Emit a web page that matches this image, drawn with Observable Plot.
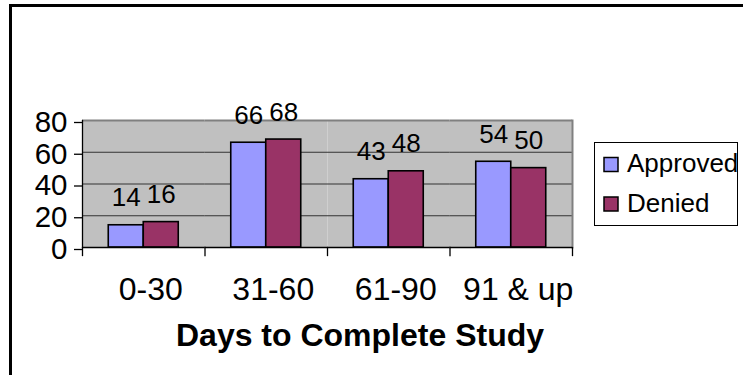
<!DOCTYPE html>
<html>
<head>
<meta charset="utf-8">
<script src="https://cdn.jsdelivr.net/npm/d3@7"></script>
<script src="https://cdn.jsdelivr.net/npm/@observablehq/plot@0.6"></script>
<style>
  body { margin: 0; background: #fff; }
  #chart { position: relative; width: 743px; height: 375px; overflow: hidden;
           font-family: "Liberation Sans", Arial, sans-serif; }
  #chart > svg { position: absolute; left: 0; top: 0; }
</style>
</head>
<body>
<div id="chart"></div>
<script>
// Study completion time buckets and counts per outcome
const categories = ["0-30", "31-60", "61-90", "91 & up"];
const series = ["Approved", "Denied"];
const approved = [14, 66, 43, 54];
const denied = [16, 68, 48, 50];
const yTicks = [0, 20, 40, 60, 80];
const colors = ["#9999FF", "#993366"];
const axisTitle = "Days to Complete Study";

const values = {Approved: approved, Denied: denied};
const data = categories.flatMap((category, i) =>
  series.map(s => ({category, series: s, value: values[s][i]}))
);

const plot = Plot.plot({
  width: 743,
  height: 375,
  marginLeft: 82,
  marginRight: 171,
  marginTop: 120,
  marginBottom: 128,
  style: {fontFamily: "'Liberation Sans', Arial, sans-serif", background: "transparent", overflow: "visible"},
  fx: {domain: categories, padding: 0, axis: null, label: null, round: false},
  x: {domain: series, paddingInner: 0, paddingOuter: 0.75, axis: null, round: false},
  y: {domain: [0, 80], axis: null, label: null},
  color: {domain: series, range: colors},
  marks: [
    // gray plot area, one panel per bucket
    Plot.frame({fill: "#C0C0C0", stroke: "none"}),
    // horizontal gridlines
    Plot.ruleY(yTicks.filter(v => v > 0 && v < 80), {stroke: "#333", strokeWidth: 1.2}),
    // plot area border (top and right)
    Plot.ruleY([80], {stroke: "#808080", strokeWidth: 2}),
    Plot.frame({anchor: "right", facetAnchor: "right", stroke: "#808080", strokeWidth: 2}),
    // bars
    Plot.barY(data, {fx: "category", x: "series", y: "value", fill: "series",
                     stroke: "#000", strokeWidth: 1.6}),
    // value labels
    Plot.text(data, {fx: "category", x: "series", y: "value", text: d => String(d.value),
                     dy: -19, lineAnchor: "bottom", fontSize: 26, fill: "#000"}),
    // axis lines
    Plot.frame({anchor: "left", facetAnchor: "left", stroke: "#000", strokeWidth: 1.3}),
    Plot.ruleY([0], {stroke: "#000", strokeWidth: 1.5}),
    // category boundary ticks below the baseline
    Plot.frame({anchor: "left", stroke: "#000", strokeWidth: 1.3, insetTop: 127, insetBottom: -8}),
    Plot.frame({anchor: "right", facetAnchor: "right", stroke: "#000", strokeWidth: 1.3, insetTop: 127, insetBottom: -8}),
    // y axis ticks and labels
    Plot.axisY(yTicks, {anchor: "left", tickSize: 8, tickPadding: 7, fontSize: 29.5, dy: 2,
                        label: null, stroke: "#000", strokeWidth: 1.3, fill: "#000"}),
    // bucket labels
    Plot.axisFx({anchor: "bottom", tickSize: 0, tickPadding: 30, fontSize: 32, dx: 7, label: null, fill: "#000"})
  ]
});

const chart = document.getElementById("chart");
chart.appendChild(plot);

// chart border, axis title and legend
const overlay = d3.select(chart).append("svg")
  .attr("width", 743).attr("height", 375)
  .style("pointer-events", "none")
  .style("font-family", "'Liberation Sans', Arial, sans-serif");

overlay.append("path")
  .attr("d", "M10.5,380V5.5H750")
  .attr("fill", "none").attr("stroke", "#000").attr("stroke-width", 3);

overlay.append("text")
  .attr("x", 360).attr("y", 346)
  .attr("text-anchor", "middle")
  .attr("font-size", 32).attr("font-weight", "bold")
  .text(axisTitle);

const legend = overlay.append("g");
legend.append("rect")
  .attr("x", 594.5).attr("y", 142.5).attr("width", 143).attr("height", 83)
  .attr("fill", "#fff").attr("stroke", "#000").attr("stroke-width", 1);
series.forEach((s, i) => {
  legend.append("rect")
    .attr("x", 604).attr("y", 157.5 + i * 39.5).attr("width", 14).attr("height", 14)
    .attr("fill", colors[i]).attr("stroke", "#000").attr("stroke-width", 1.5);
  legend.append("text")
    .attr("x", 627).attr("y", 172 + i * 39.5)
    .attr("font-size", 26).attr("fill", "#000")
    .text(s);
});
</script>
</body>
</html>
